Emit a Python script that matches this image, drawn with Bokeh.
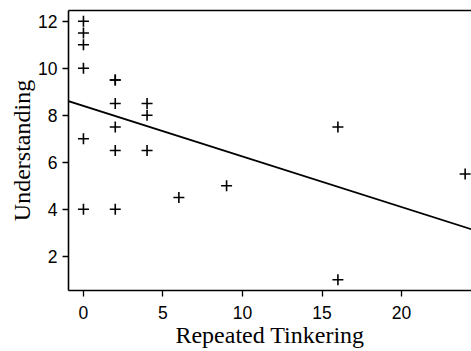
import numpy as np
from bokeh.plotting import figure
from bokeh.models import Range1d, FixedTicker, LinearAxis, Slope
from bokeh.embed import file_html
from bokeh.resources import INLINE

# Data
tinkering = [0, 0, 0, 0, 0, 0, 2, 2, 2, 2, 2, 2, 4, 4, 4, 6, 9, 16, 16, 24]
understanding = [12, 11.5, 11, 10, 7, 4, 9.5, 9.5, 8.5, 7.5, 6.5, 4,
                 8.5, 8, 6.5, 4.5, 5, 7.5, 1, 5.5]
x_ticks = [0, 5, 10, 15, 20]
y_ticks = [2, 4, 6, 8, 10, 12]
x_label = "Repeated Tinkering"
y_label = "Understanding"

slope, intercept = np.polyfit(tinkering, understanding, 1)

p = figure(width=471, height=351, output_backend="svg", toolbar_location=None,
           x_range=Range1d(-0.94, 24.4), y_range=Range1d(0.54, 12.46),
           min_border_left=68, min_border_right=0, min_border_top=10,
           min_border_bottom=61)
p.background_fill_color = "white"
p.border_fill_color = "white"
p.outline_line_color = None
p.grid.visible = False

p.scatter(tinkering, understanding, marker="cross", size=11,
          line_color="black", line_width=1.6)
p.add_layout(Slope(gradient=slope, y_intercept=intercept,
                   line_color="black", line_width=1.8))

for ax in (p.xaxis[0], p.yaxis[0]):
    ax.axis_line_width = 1.6
    ax.axis_line_color = "black"
    ax.major_tick_line_color = "black"
    ax.major_tick_line_width = 1.3
    ax.major_tick_out = 6
    ax.major_tick_in = 0
    ax.minor_tick_line_color = None
    ax.major_label_text_font = "Liberation Sans"
    ax.major_label_text_font_size = "17.5px"
    ax.major_label_text_color = "black"
    ax.axis_label_text_font = "Liberation Serif"
    ax.axis_label_text_font_size = "24px"
    ax.axis_label_text_font_style = "normal"
    ax.axis_label_text_color = "black"

p.xaxis.ticker = FixedTicker(ticks=x_ticks)
p.yaxis.ticker = FixedTicker(ticks=y_ticks)
p.xaxis.axis_label = x_label
p.yaxis.axis_label = y_label
p.xaxis.major_label_standoff = 9
p.xaxis.axis_label_standoff = 0
p.yaxis.major_label_standoff = 5
p.yaxis.axis_label_standoff = 0

top = LinearAxis(ticker=FixedTicker(ticks=[]), axis_line_width=1.6,
                 axis_line_color="black", major_tick_out=0, major_tick_in=0,
                 major_label_standoff=0, minor_tick_line_color=None,
                 major_label_text_font_size="0px")
p.add_layout(top, "above")

open("out.html", "w").write(file_html(p, INLINE))
